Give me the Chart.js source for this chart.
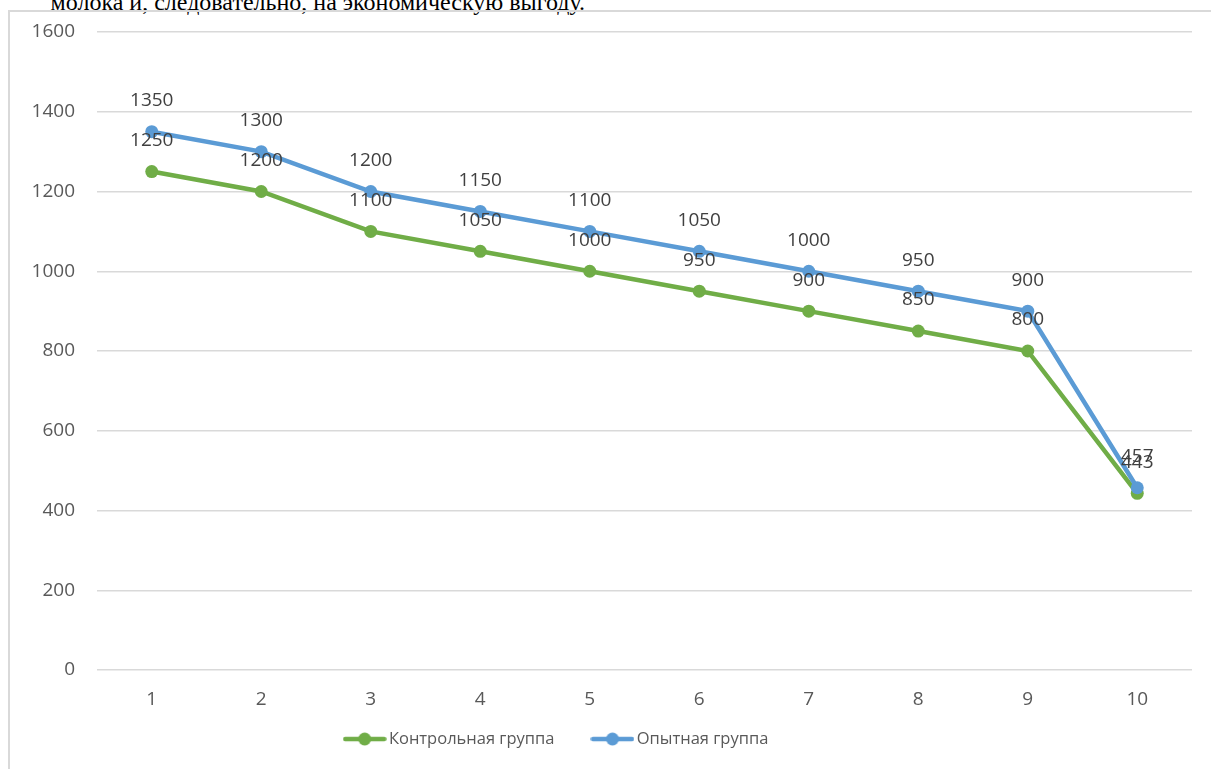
<!DOCTYPE html>
<html>
<head>
<meta charset="utf-8">
<script src="https://cdn.jsdelivr.net/npm/chart.js@4"></script>
<style>
  html, body { margin: 0; padding: 0; background: #fff; overflow: hidden; }
  body { width: 1211px; height: 769px; position: relative; }
  #above {
    position: absolute; right: 626px; top: -10px;
    font: 24px "Liberation Serif", serif; line-height: 24px;
    white-space: nowrap; color: #000;
  }
  #frame {
    position: absolute; left: 8px; top: 10px;
    width: 1240px; height: 800px;
    border: 2px solid #d9d9d9;
  }
  #box { position: absolute; left: 0; top: 0; width: 1190px; height: 790px; }
</style>
</head>
<body>
<div id="above">молока и, следовательно, на экономическую выгоду.</div>
<div id="frame"><div id="box"><canvas id="myChart"></canvas></div></div>
<script>
var labels = ['1', '2', '3', '4', '5', '6', '7', '8', '9', '10'];
var seriesNames = ['Контрольная группа', 'Опытная группа'];
var controlValues = [1250, 1200, 1100, 1050, 1000, 950, 900, 850, 800, 443];
var testValues = [1350, 1300, 1200, 1150, 1100, 1050, 1000, 950, 900, 457];
var colors = ['#70AD47', '#5B9BD5'];
var yTicks = [0, 200, 400, 600, 800, 1000, 1200, 1400, 1600];

var font = '"Open Sans", sans-serif';

// little line-with-dot picture for the legend
function legendMark(color) {
    var c = document.createElement('canvas');
    c.width = 44;
    c.height = 14;
    var g = c.getContext('2d');
    g.strokeStyle = color;
    g.lineWidth = 4.5;
    g.lineCap = 'round';
    g.beginPath();
    g.moveTo(2.5, 7);
    g.lineTo(41.5, 7);
    g.stroke();
    g.fillStyle = color;
    g.beginPath();
    g.arc(22, 7, 6.5, 0, Math.PI * 2);
    g.fill();
    return c;
}

var valueLabels = {
    id: 'valueLabels',
    afterDatasetsDraw: function(chart) {
        var ctx = chart.ctx;
        ctx.save();
        ctx.font = '19px ' + font;
        ctx.fillStyle = '#404040';
        ctx.textAlign = 'center';
        ctx.textBaseline = 'middle';
        chart.data.datasets.forEach(function(ds, i) {
            var meta = chart.getDatasetMeta(i);
            meta.data.forEach(function(pt, j) {
                ctx.fillText(String(ds.data[j]), pt.x, pt.y - 31);
            });
        });
        ctx.restore();
    }
};

// keep the legend where the original put it
// (the wide item padding also pads it vertically, so pull it up)
var legendShift = {
    id: 'legendShift',
    afterLayout: function(chart) {
        var lg = chart.legend;
        lg.left = 0;
        lg.right = 1097;
        lg.top -= 40;
        lg.bottom -= 40;
    }
};

var config = {
    type: 'line',
    data: {
        labels: labels,
        datasets: [{
            label: seriesNames[0],
            data: controlValues,
            borderColor: colors[0],
            backgroundColor: colors[0],
            order: 1
        }, {
            label: seriesNames[1],
            data: testValues,
            borderColor: colors[1],
            backgroundColor: colors[1],
            order: 0
        }]
    },
    options: {
        responsive: true,
        maintainAspectRatio: false,
        animation: false,
        layout: {
            padding: { top: 20, right: 8, bottom: 4.7, left: 0 }
        },
        elements: {
            line: { borderWidth: 4.5, tension: 0 },
            point: { radius: 6.5, borderWidth: 0, hoverRadius: 6.5 }
        },
        plugins: {
            tooltip: { enabled: false },
            legend: {
                position: 'bottom',
                labels: {
                    usePointStyle: true,
                    pointStyleWidth: 32,
                    padding: 42,
                    color: '#595959',
                    font: { family: font, size: 16.5 },
                    generateLabels: function(chart) {
                        return chart.data.datasets.map(function(ds, i) {
                            return {
                                text: ds.label,
                                pointStyle: legendMark(colors[i]),
                                fillStyle: colors[i],
                                strokeStyle: colors[i],
                                lineWidth: 0,
                                fontColor: '#595959',
                                hidden: false,
                                datasetIndex: i
                            };
                        });
                    }
                }
            }
        },
        scales: {
            x: {
                offset: true,
                grid: { display: false, drawTicks: false },
                border: { display: false },
                ticks: {
                    padding: 18,
                    color: '#595959',
                    font: { family: font, size: 19 }
                }
            },
            y: {
                min: 0,
                max: 1600,
                afterBuildTicks: function(scale) {
                    scale.ticks = yTicks.map(function(v) { return { value: v }; });
                },
                grid: { color: '#d9d9d9', lineWidth: 1.5, drawTicks: false },
                border: { display: false },
                ticks: {
                    padding: 22,
                    color: '#595959',
                    font: { family: font, size: 19 },
                    callback: function(v) { return String(v); }
                },
                afterFit: function(scale) {
                    scale.width = 87;
                    scale.paddingTop = 0;
                    scale.paddingBottom = 0;
                }
            }
        }
    },
    plugins: [valueLabels, legendShift]
};

window.onload = function() {
    var ctx = document.getElementById('myChart').getContext('2d');
    window.myLine = new Chart(ctx, config);
};
</script>
</body>
</html>
